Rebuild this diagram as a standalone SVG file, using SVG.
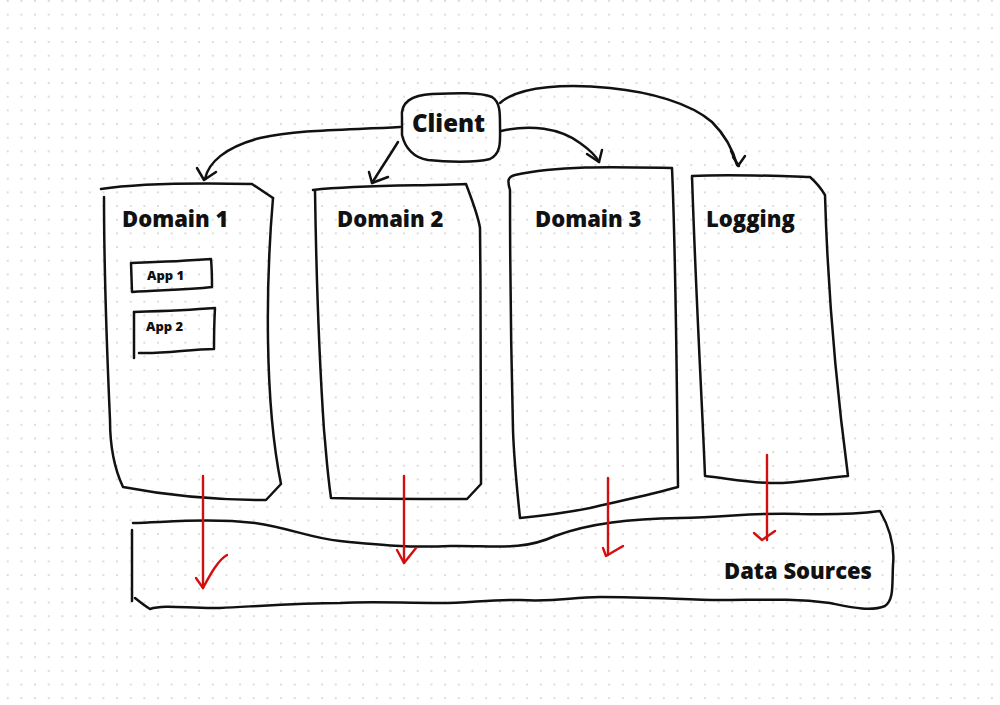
<svg xmlns="http://www.w3.org/2000/svg" width="1000" height="705" viewBox="0 0 1000 705">
<defs>
<pattern id="dots" x="6.7" y="0" width="13.67" height="13.67" patternUnits="userSpaceOnUse">
<rect x="0" y="0" width="2" height="2" fill="#dcdcdc"/>
</pattern>
<style>
.sk{fill:none;stroke:#111;stroke-width:2.5;stroke-linecap:round;stroke-linejoin:round}
.rd{fill:none;stroke:#d01010;stroke-width:2.4;stroke-linecap:round;stroke-linejoin:round}
.lbl{font-family:"Open Sans","Liberation Sans",sans-serif;font-weight:800;fill:#111}
.big{font-size:22px}
.sm{font-size:13px}
</style>
</defs>
<rect width="1000" height="705" fill="#ffffff"/>
<rect x="-1" y="-1" width="1002" height="707" fill="url(#dots)"/>

<g id="client">
<path class="sk" d="M402,118 C400,102 412,95 432,94 C455,93 480,92 492,97 C500,102 500,112 500,125 C500,140 502,153 490,159 C475,163 445,162 428,160 C414,158 405,148 402,135 Z"/>
<text class="lbl" x="412" y="132" font-size="24">Client</text>
</g>

<g id="domain1">
<path class="sk" d="M101,189 C140,183 200,183 252,184 L273,198"/>
<path class="sk" d="M273,198 C266,280 264,400 281,484 L266,500 C220,500 170,496 123,487 C115,470 110,450 110,420 C106,330 104,260 104,197"/>
<text class="lbl big" x="122" y="227">Domain 1</text>
</g>

<g id="app1">
<path class="sk" d="M131,263 C160,262 185,261 211,259 C212,270 212,280 212,287 C185,290 160,290 132,292 Z"/>
<text class="lbl sm" x="147" y="280">App 1</text>
</g>

<g id="app2">
<path class="sk" d="M134,312 C165,311 190,310 215,308 C214,325 214,338 214,349 C190,349 165,354 139,353"/>
<path class="sk" d="M134,312 L134,358"/>
<text class="lbl sm" x="146" y="331">App 2</text>
</g>

<g id="domain2">
<path class="sk" d="M313,190 C360,185 420,186 466,184 C472,200 478,215 480,228 C481,320 481,420 481,484 L467,499 C420,499 370,499 331,498 C327,470 326,450 324,430 C318,340 316,260 315,190"/>
<text class="lbl big" x="337" y="227">Domain 2</text>
</g>

<g id="domain3">
<path class="sk" d="M510,190 C507,180 508,177 515,175 C560,165 620,167 672,168 C676,260 677,400 678,487 C650,495 610,503 590,508 C560,514 540,516 520,518 C516,480 514,460 513,430 C511,350 510,260 510,190"/>
<text class="lbl big" x="535" y="227">Domain 3</text>
</g>

<g id="logging">
<path class="sk" d="M692,176 C730,174 780,176 810,177 C818,184 822,190 825,195 C828,300 838,400 848,476 C820,478 795,484 770,483 C745,482 725,478 705,476 C702,400 696,300 692,176 Z"/>
<text class="lbl big" x="706" y="227">Logging</text>
</g>

<g id="datasources">
<path class="sk" d="M133,523 C170,522 210,518 255,523 C290,528 310,538 340,541 C380,545 410,548 450,546 C490,545 520,552 555,536 C590,523 630,519 680,518 C730,517 760,512 800,514 C840,515 865,513 880,511 C888,525 895,545 893,565 C892,585 894,600 885,606 C870,612 850,607 830,603 C790,598 760,600 720,600 C690,600 650,597 600,597 C570,597 560,602 520,600 C490,599 470,603 440,603 C400,603 370,601 340,603 C300,603 260,606 220,608 C190,609 165,604 150,609 C145,606 140,602 135,598"/>
<path class="sk" d="M132,530 L132,601"/>
<text class="lbl" x="724" y="579" font-size="22" textLength="148" lengthAdjust="spacingAndGlyphs">Data Sources</text>
</g>

<g id="connectors">
<path class="sk" d="M400,127 C350,130 300,129 260,138 C225,147 208,163 205,179"/>
<path class="sk" d="M197,168 L204,180 L216,172"/>
<path class="sk" d="M398,142 C390,155 380,170 372,183"/>
<path class="sk" d="M369,172 L372,183 L388,177"/>
<path class="sk" d="M501,131 C530,124 560,128 580,143 C590,150 596,156 599,162"/>
<path class="sk" d="M587,154 L599,162 L602,150"/>
<path class="sk" d="M500,103 C520,85 570,84 610,88 C650,92 690,103 712,122 C725,135 733,150 737,165"/>
<path class="sk" d="M731,151 L738,166 L745,156 M733,157 L739,166"/>
<path class="rd" d="M203,476 L203,588"/>
<path class="rd" d="M196,578 L203,588 C210,575 218,560 227,555"/>
<path class="rd" d="M404,476 L404,563"/>
<path class="rd" d="M397,550 L404,563 L416,548"/>
<path class="rd" d="M608,478 L608,555"/>
<path class="rd" d="M603,548 L606,556 L623,546"/>
<path class="rd" d="M767,455 L767,540"/>
<path class="rd" d="M754,533 L762,540 L775,531"/>
</g>
</svg>
